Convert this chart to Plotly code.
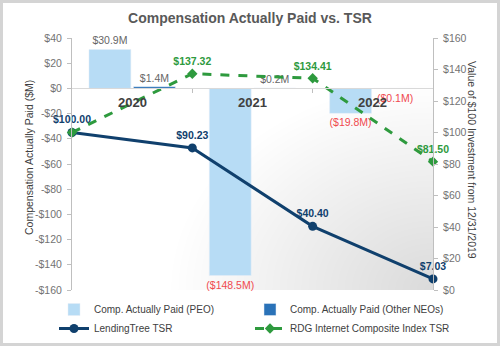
import numpy as np
import plotly.graph_objects as go

# ---- data ----
years = ["2020", "2021", "2022"]
tsr_years = ["2019", "2020", "2021", "2022"]
peo_cap = [30.9, -148.5, -19.8]
neo_cap = [1.4, 0.2, -0.1]
lt_tsr = [100.00, 90.23, 40.40, 7.03]
rdg_tsr = [100.00, 137.32, 134.41, 81.50]
left_ticks = list(range(-160, 41, 20))
right_ticks = list(range(0, 161, 20))

W, H = 500, 346
ML, MR, MT, MB = 72, 67, 38, 56
PW, PH = W - ML - MR, H - MT - MB

GRAY = "#666666"
TICK = "#737373"
DARK = "#404040"
RED = "#f0494f"
PEO_C = "#b7dcf5"
NEO_C = "#2a72b8"
LT_C = "#10406d"
RDG_C = "#2e9a3e"
FONT = "Liberation Sans, Arial, sans-serif"

def money_m(v):
    return f"${v:.1f}M" if v >= 0 else f"(${abs(v):.1f}M)"

def money_tick(v):
    return f"${v}" if v >= 0 else f"-${abs(v)}"

bar_x = np.arange(len(years)) + 0.5
line_x = np.arange(len(tsr_years))

fig = go.Figure()
fig.add_trace(go.Bar(
    x=bar_x, y=peo_cap, name="Comp. Actually Paid (PEO)", marker_color=PEO_C,
    text=[money_m(v) for v in peo_cap], textposition="outside", constraintext="none",
    textfont=dict(size=10.5, color=[GRAY if v >= 0 else RED for v in peo_cap], family=FONT),
    cliponaxis=False, legend="legend",
))
fig.add_trace(go.Bar(
    x=bar_x, y=neo_cap, name="Comp. Actually Paid (Other NEOs)", marker_color=NEO_C,
    text=[money_m(v) for v in neo_cap], textposition="outside", constraintext="none",
    textfont=dict(size=10.5, color=[GRAY if v >= 0 else RED for v in neo_cap], family=FONT),
    cliponaxis=False, legend="legend2",
))
fig.add_trace(go.Scatter(
    x=line_x, y=lt_tsr, name="LendingTree TSR", yaxis="y2", mode="lines+markers+text",
    line=dict(color=LT_C, width=3), marker=dict(size=9, color=LT_C),
    text=[f"${v:.2f}" for v in lt_tsr], textposition="top center",
    textfont=dict(size=10.5, color=LT_C, family=FONT, weight="bold"), cliponaxis=False,
    legend="legend",
))
fig.add_trace(go.Scatter(
    x=line_x, y=rdg_tsr, name="RDG Internet Composite Index TSR", yaxis="y2",
    mode="lines+markers+text",
    line=dict(color=RDG_C, width=3, dash="dash"), marker=dict(size=8, color=RDG_C, symbol="diamond"),
    text=[""] + [f"${v:.2f}" for v in rdg_tsr[1:]], textposition="top center",
    textfont=dict(size=10.5, color=RDG_C, family=FONT, weight="bold"), cliponaxis=False,
    legend="legend2",
))

shapes = []
# soft gradient in bottom-right corner of plot area
for i in range(36):
    r = 0.05 + i * 0.04
    shapes.append(dict(type="circle", xref="x", yref="y2", layer="below",
                       x0=3 - r * 1.5, x1=3 + r * 1.5, y0=-r * 90, y1=r * 90,
                       fillcolor="rgba(120,120,120,0.009)", line=dict(width=0)))
# outer frame
shapes.append(dict(type="rect", xref="paper", yref="paper",
                   x0=(1.5 - ML) / PW, x1=(W - 1.5 - ML) / PW,
                   y0=-(MB - 1.5) / PH, y1=1 + (MT - 1.5) / PH,
                   line=dict(color="#d4d4d4", width=3), fillcolor="rgba(0,0,0,0)"))

annotations = [
    dict(x=x, y=0, xref="x", yref="y", text=f"<b>{yr}</b>", showarrow=False,
         yanchor="top", yshift=-5, font=dict(size=13, color=DARK, family=FONT))
    for x, yr in zip(bar_x, years)
]
annotations.append(dict(x=1 + 39 / PW, y=0.5 + 4 / PH, xref="paper", yref="paper",
                        xanchor="center", yanchor="middle",
                        text="Value of $100 Investment from 12/31/2019", textangle=90,
                        showarrow=False, font=dict(size=10.5, color=DARK, family=FONT)))
annotations.append(dict(x=-(ML - 29) / PW, y=0.5 + 6 / PH, xref="paper", yref="paper",
                        xanchor="center", yanchor="middle",
                        text="Compensation Actually Paid ($M)", textangle=-90,
                        showarrow=False, font=dict(size=10.5, color=DARK, family=FONT)))

legend_common = dict(orientation="v", xanchor="left", y=-(5 / PH), yanchor="top",
                     font=dict(size=10, color=DARK, family=FONT), traceorder="normal",
                     bgcolor="rgba(0,0,0,0)", tracegroupgap=0)

fig.update_layout(
    width=W, height=H, margin=dict(l=ML, r=MR, t=MT, b=MB, autoexpand=False),
    paper_bgcolor="white", plot_bgcolor="white",
    font=dict(family=FONT, size=10.5, color=GRAY),
    title=dict(text="<b>Compensation Actually Paid vs. TSR</b>", x=0.5, xanchor="center",
               y=1 - 18 / H, yanchor="middle", font=dict(size=14, color="#595959", family=FONT)),
    barmode="group", bargap=0.26, bargroupgap=0.06,
    showlegend=True,
    legend=dict(x=(54 - ML) / PW, **legend_common),
    legend2=dict(x=(250 - ML) / PW, **legend_common),
    xaxis=dict(range=[0, 3], anchor="free", position=160 / 200, showgrid=False, zeroline=False,
               showline=True, linecolor="#d9d9d9", linewidth=1, automargin=False,
               tickvals=[1, 2], ticks="outside", ticklen=4, tickcolor="#bfbfbf",
               showticklabels=False),
    yaxis=dict(range=[-160, 40], tickvals=left_ticks, ticktext=[money_tick(v) for v in left_ticks],
               showgrid=False, zeroline=False, showline=True, linecolor="#bfbfbf", automargin=False,
               ticks="outside", ticklen=4, tickcolor="#bfbfbf", ticklabelstandoff=3,
               tickfont=dict(size=10.5, color=TICK)),
    yaxis2=dict(range=[0, 160], overlaying="y", side="right", tickvals=right_ticks,
                ticktext=[money_tick(v) for v in right_ticks], showgrid=False, zeroline=False,
                showline=True, linecolor="#bfbfbf", ticks="outside", ticklen=4, automargin=False,
                ticklabelstandoff=3, tickcolor="#bfbfbf", tickfont=dict(size=10.5, color=TICK)),
    shapes=shapes, annotations=annotations,
)

fig.write_html("out.html")
